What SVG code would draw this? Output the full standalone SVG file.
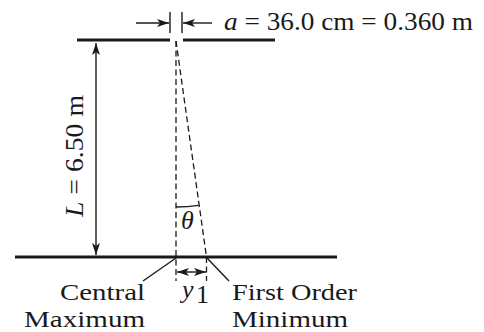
<svg xmlns="http://www.w3.org/2000/svg" width="484" height="332" viewBox="0 0 484 332">
<style>
.bar{stroke:#1a1a1a;stroke-width:3;fill:none}
.ln{stroke:#1a1a1a;stroke-width:1.4;fill:none}
.dash{stroke:#1a1a1a;stroke-width:1.3;fill:none;stroke-dasharray:6 3.5}
.t{font-family:"Liberation Serif","Times New Roman",serif;font-size:26px;fill:#1a1a1a}
.s{font-size:24px}
.i{font-style:italic}
</style>
<defs>
<marker id="ah" viewBox="0 0 12 8" refX="12" refY="4" markerWidth="12" markerHeight="8" markerUnits="userSpaceOnUse" orient="auto-start-reverse">
<path d="M0,0 L12,4 L0,8 L3,4 Z" fill="#1a1a1a"/>
</marker>
</defs>
<g id="slit-barrier">
<line class="bar" x1="77" y1="40" x2="170" y2="40"/>
<line class="bar" x1="183" y1="40" x2="275" y2="40"/>
</g>
<g id="screen">
<line class="bar" x1="15" y1="257" x2="337" y2="257"/>
</g>
<g id="connectors">
<line class="ln" x1="170" y1="12" x2="170" y2="33"/>
<line class="ln" x1="182" y1="12" x2="182" y2="33"/>
<line class="ln" x1="136" y1="23" x2="169" y2="23" marker-end="url(#ah)"/>
<line class="ln" x1="212" y1="23" x2="183" y2="23" marker-end="url(#ah)"/>
<line class="ln" x1="96" y1="43" x2="96" y2="255" marker-start="url(#ah)" marker-end="url(#ah)"/>
<line class="dash" x1="176" y1="41" x2="176" y2="281"/>
<line class="dash" x1="176" y1="41" x2="206.5" y2="257"/>
<line class="dash" x1="206.5" y1="257" x2="206.5" y2="281"/>
<path class="ln" d="M176,207 A166,166 0 0 0 198.8,205.4"/>
<line class="ln" x1="177" y1="272" x2="206" y2="272" marker-start="url(#ah)" marker-end="url(#ah)"/>
<line class="ln" x1="176" y1="258" x2="143" y2="281"/>
<line class="ln" x1="207" y1="258" x2="229" y2="281"/>
</g>
<g id="labels">
<text class="t" x="224" y="30" textLength="249" lengthAdjust="spacingAndGlyphs"><tspan class="i">a</tspan> = 36.0 cm = 0.360 m</text>
<text class="t" transform="translate(83,217) rotate(-90)" textLength="122" lengthAdjust="spacingAndGlyphs"><tspan class="i">L</tspan> = 6.50 m</text>
<text class="t i" x="181" y="229" font-size="24">θ</text>
<text class="t i" x="182" y="298" font-size="24">y</text>
<text class="t" x="196" y="303" font-size="19">1</text>
<text class="t s" x="145" y="300" text-anchor="end" textLength="85" lengthAdjust="spacingAndGlyphs">Central</text>
<text class="t s" x="145" y="327" text-anchor="end" textLength="121" lengthAdjust="spacingAndGlyphs">Maximum</text>
<text class="t s" x="232" y="300" textLength="125" lengthAdjust="spacingAndGlyphs">First Order</text>
<text class="t s" x="232" y="327" textLength="116" lengthAdjust="spacingAndGlyphs">Minimum</text>
</g>
</svg>
